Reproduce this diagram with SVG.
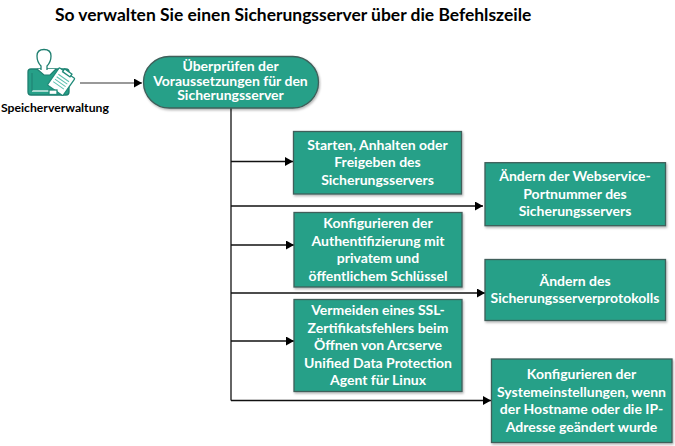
<svg xmlns="http://www.w3.org/2000/svg" width="675" height="446" viewBox="0 0 675 446">
<style>
text{font-family:Lato,"Open Sans","Liberation Sans",sans-serif;font-weight:700}
.t{font-size:14px;fill:#fff;text-anchor:middle}
.b{fill:#26a088;stroke:#3f5f5a;stroke-width:1.3;filter:url(#sh)}
.c{fill:none;stroke:#111;stroke-width:1.3;marker-end:url(#a)}
.i{fill:#fff;stroke:#1f8a78;stroke-width:1.3}
</style>
<defs>
<marker id="a" markerUnits="userSpaceOnUse" markerWidth="9" markerHeight="10" refX="8" refY="4.5" orient="auto"><path d="M0 0L8 4.500L0 9Z" fill="#000"/></marker>
<filter id="sh" x="-5%" y="-5%" width="110%" height="115%"><feDropShadow dx="1" dy="1.500" stdDeviation="0.800" flood-color="#000" flood-opacity=".3"/></filter>
</defs>
<text x="55" y="20.500" font-size="17.450" fill="#000">So verwalten Sie einen Sicherungsserver über die Befehlszeile</text>
<g id="connectors">
<path d="M80 83H142" style="fill:none;stroke:#777;stroke-width:1.500;marker-end:url(#a)"/>
<path d="M231 108V400.500" style="fill:none;stroke:#111;stroke-width:1.300"/>
<path class="c" d="M231 161.500H293"/>
<path class="c" d="M231 206H483"/>
<path class="c" d="M231 245H294"/>
<path class="c" d="M231 293H485"/>
<path class="c" d="M231 341H294"/>
<path class="c" d="M231 400.500H491"/>
</g>
<g id="speicherverwaltung">
<rect x="28" y="69" width="41" height="26" rx="3" fill="#26a088" stroke="#1f7f70" stroke-width="1.300"/>
<path d="M32 91H52" stroke="#fff" stroke-width="1.200" fill="none"/>
<path d="M32 73V91" stroke="#1f7f70" stroke-width="1" fill="none"/>
<path d="M37 69L44 75L50 75L56 69" fill="#fff" stroke="#1f7f70" stroke-width="1.200"/>
<path d="M41 70V66C38 63 37 58 37 56C37 51 40 49.500 44 49.500C48 49.500 51 51 51 56C51 59 50 63 47 66V70" fill="#fff" stroke="#1f7f70" stroke-width="1.300"/>
<g transform="rotate(35 61 81)"><rect x="52" y="71" width="19" height="21" rx="1" class="i"/><path d="M55 77H68M55 80H68M55 83H68M55 86H68" stroke="#5cc0ae" stroke-width="1"/><rect x="57" y="69" width="9" height="3.500" class="i"/></g>
<rect x="49" y="90" width="8" height="4.500" class="i"/>
<text x="1" y="112" font-size="12.200" fill="#000">Speicherverwaltung</text>
</g>
<g id="n0"><rect class="b" x="143.500" y="56.500" width="175" height="51.500" rx="25.700"/>
<text class="t" x="230.500" y="71">Überprüfen der</text><text class="t" x="230.500" y="85.500">Voraussetzungen für den</text><text class="t" x="230.500" y="100">Sicherungsserver</text></g>
<g id="n1"><rect class="b" x="293.500" y="131.500" width="168" height="62.500"/>
<text class="t" x="377.500" y="149.500">Starten, Anhalten oder</text><text class="t" x="377.500" y="167">Freigeben des</text><text class="t" x="377.500" y="184.700">Sicherungsservers</text></g>
<g id="n2"><rect class="b" x="485" y="162.700" width="180.500" height="63"/>
<text class="t" x="575" y="181">Ändern der Webservice-</text><text class="t" x="575" y="198.500">Portnummer des</text><text class="t" x="575" y="216">Sicherungsservers</text></g>
<g id="n3"><rect class="b" x="294" y="212.500" width="168" height="74.500"/>
<text class="t" x="378" y="228">Konfigurieren der</text><text class="t" x="378" y="245.500">Authentifizierung mit</text><text class="t" x="378" y="263">privatem und</text><text class="t" x="378" y="280.500">öffentlichem Schlüssel</text></g>
<g id="n4"><rect class="b" x="485" y="259.500" width="180.500" height="61"/>
<text class="t" x="575" y="285.700">Ändern des</text><text class="t" x="575" y="303.300">Sicherungsserverprotokolls</text></g>
<g id="n5"><rect class="b" x="294" y="299.500" width="168" height="92"/>
<text class="t" x="378" y="315">Vermeiden eines SSL-</text><text class="t" x="378" y="332.500">Zertifikatsfehlers beim</text><text class="t" x="378" y="350">Öffnen von Arcserve</text><text class="t" x="378" y="367.500">Unified Data Protection</text><text class="t" x="378" y="385">Agent für Linux</text></g>
<g id="n6"><rect class="b" x="491.500" y="359" width="180.500" height="83.500"/>
<text class="t" x="581.500" y="379">Konfigurieren der</text><text class="t" x="581.500" y="396.500">Systemeinstellungen, wenn</text><text class="t" x="581.500" y="414">der Hostname oder die IP-</text><text class="t" x="581.500" y="431.500">Adresse geändert wurde</text></g>
</svg>
